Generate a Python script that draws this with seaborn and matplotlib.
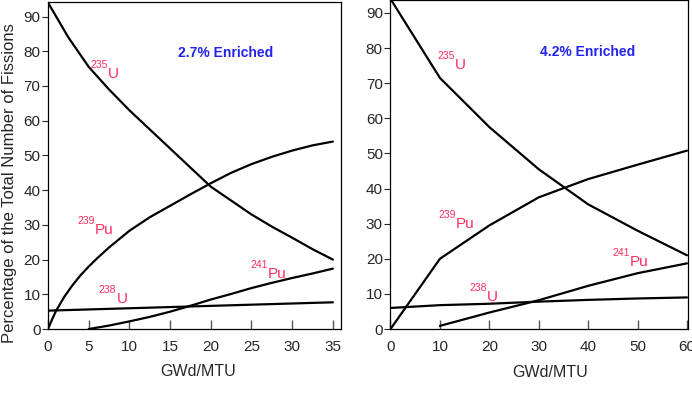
import numpy as np
import pandas as pd
import matplotlib
matplotlib.use("Agg")
import matplotlib.pyplot as plt
import seaborn as sns

# 2.7% enriched (left panel)
x_u235_a = [0, 2.5, 5, 7.5, 10, 12.5, 15, 17.5, 20, 22.5, 25, 27.5, 30, 32.5, 35]
u235_a = [94, 84, 75.5, 69, 63, 57.5, 52, 46.5, 41, 37, 33, 29.5, 26.3, 23, 20]
x_pu239_a = [0, 0.5, 1, 2, 3, 4, 5, 6, 7.5, 10, 12.5, 15, 17.5, 20, 22.5, 25, 27.5, 30, 32.5, 35]
pu239_a = [0, 2.8, 5.3, 9.3, 12.6, 15.5, 18, 20.3, 23.5, 28.3, 32.2, 35.5, 38.8, 42, 45, 47.5, 49.6, 51.4, 52.9, 54]
x_u238_a = [0, 17.5, 35]
u238_a = [5.3, 6.5, 7.7]
x_pu241_a = [5, 7.5, 10, 12.5, 15, 17.5, 20, 22.5, 25, 27.5, 30, 32.5, 35]
pu241_a = [0, 1, 2.2, 3.5, 5, 6.7, 8.5, 10.1, 11.8, 13.3, 14.7, 16, 17.4]

# 4.2% enriched (right panel)
x_b = [0, 10, 20, 30, 40, 50, 60]
u235_b = [94, 71.5, 57.5, 45.5, 35.5, 28, 21]
pu239_b = [0, 20, 29.5, 37.5, 42.7, 46.8, 50.8]
u238_b = [6.0, 6.8, 7.2, 7.8, 8.3, 8.7, 9.0]
x_pu241_b = [10, 20, 30, 40, 50, 60]
pu241_b = [0.9, 4.7, 8.2, 12.3, 15.9, 18.7]

xticks_a = [0, 5, 10, 15, 20, 25, 30, 35]
xticks_b = [0, 10, 20, 30, 40, 50, 60]
yticks = [0, 10, 20, 30, 40, 50, 60, 70, 80, 90]

sns.set_style("ticks")
plt.rcParams["font.family"] = ["Liberation Sans", "DejaVu Sans"]

red = "#ff2d5f"
blue = "#2323ee"

fig = plt.figure(figsize=(6.92, 3.95), dpi=100)
ax1 = fig.add_axes([0.0694, 0.167, 0.4234, 0.828])
ax2 = fig.add_axes([0.5643, 0.167, 0.4292, 0.834])


def curve(ax, xs, ys):
    df = pd.DataFrame({"x": xs, "y": ys})
    sns.lineplot(data=df, x="x", y="y", ax=ax, color="black", lw=1.6,
                 estimator=None, sort=False)


def iso(ax, x, y, mass, sym):
    ax.text(x, y, sym, color=red, fontsize=11, ha="left", va="baseline")
    ax.annotate(mass, (x, y), xytext=(0, 7), textcoords="offset points",
                color=red, fontsize=7.5, ha="right", va="baseline")


curve(ax1, x_u235_a, u235_a)
curve(ax1, x_pu239_a, pu239_a)
curve(ax1, x_u238_a, u238_a)
curve(ax1, x_pu241_a, pu241_a)

curve(ax2, x_b, u235_b)
curve(ax2, x_b, pu239_b)
curve(ax2, x_b, u238_b)
curve(ax2, x_pu241_b, pu241_b)

iso(ax1, 7.4, 72.3, "235", "U")
iso(ax1, 5.8, 27.4, "239", "Pu")
iso(ax1, 8.4, 7.5, "238", "U")
iso(ax1, 27.0, 14.7, "241", "Pu")
ax1.text(21.8, 79.5, "2.7% Enriched", color=blue, fontsize=10,
         fontweight="bold", ha="center", va="center")

iso(ax2, 13.1, 74.1, "235", "U")
iso(ax2, 13.3, 28.9, "239", "Pu")
iso(ax2, 19.6, 8.0, "238", "U")
iso(ax2, 48.4, 18.0, "241", "Pu")
ax2.text(39.9, 79.0, "4.2% Enriched", color=blue, fontsize=10,
         fontweight="bold", ha="center", va="center")

for ax, xt, xmax, ymax in [(ax1, xticks_a, 36, 94.2), (ax2, xticks_b, 60.1, 93.8)]:
    ax.set_xlim(0, xmax)
    ax.set_ylim(0, ymax)
    ax.set_xticks(xt)
    ax.set_yticks(yticks)
    ax.tick_params(axis="x", direction="in", length=6.5, width=1, color="#555555",
                   labelsize=11, pad=8)
    ax.tick_params(axis="y", direction="out", length=4, width=0.8, labelsize=11, pad=1.5)
    for s in ax.spines.values():
        s.set_visible(True)
        s.set_linewidth(0.9)
        s.set_color("black")
    ax.set_xlabel("GWd/MTU", fontsize=11.5)
    ax.set_ylabel("")

ax1.xaxis.set_label_coords(0.512, -0.108)
ax2.xaxis.set_label_coords(0.537, -0.108)
ax1.set_ylabel("Percentage of the Total Number of Fissions", fontsize=12)
ax1.yaxis.set_label_coords(-0.106, 0.446)

fig.savefig("out.png", dpi=100)
